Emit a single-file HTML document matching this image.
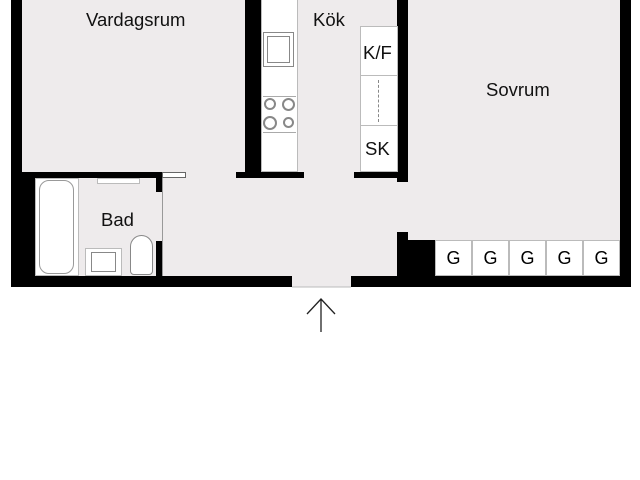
<!DOCTYPE html>
<html><head><style>
body{margin:0;width:640px;height:480px;background:#fff;position:relative;overflow:hidden;font-family:"Liberation Sans",sans-serif}
div{position:absolute;box-sizing:border-box}
.b{background:#000}
.f{background:#eeebec}
.w{background:#fff;border:1px solid #bbb}
.t{font-size:18.5px;color:#111;white-space:nowrap}
.g{background:#fff;border:1px solid #bbb;font-size:18px;text-align:center;line-height:34px;width:37px;height:36px;top:240px}
</style></head><body>
<div class="f" style="left:22px;top:0;width:598px;height:287px"></div>
<div class="b" style="left:11px;top:0;width:11px;height:287px"></div>
<div class="b" style="left:11px;top:172px;width:24px;height:115px"></div>
<div class="b" style="left:11px;top:172px;width:151px;height:6px"></div>
<div class="w" style="left:162px;top:172px;width:24px;height:6px;border-color:#666"></div>
<div class="b" style="left:156px;top:172px;width:6px;height:20px"></div>
<div class="b" style="left:156px;top:241px;width:6px;height:40px"></div>
<div style="left:162px;top:178px;width:1px;height:98px;background:#999"></div>
<div class="b" style="left:11px;top:276px;width:281px;height:11px"></div>
<div class="b" style="left:351px;top:276px;width:280px;height:11px"></div>
<div class="b" style="left:245px;top:0;width:16px;height:178px"></div>
<div class="b" style="left:236px;top:172px;width:68px;height:6px"></div>
<div class="b" style="left:397px;top:0;width:11px;height:182px"></div>
<div class="b" style="left:354px;top:172px;width:50px;height:6px"></div>
<div class="b" style="left:620px;top:0;width:11px;height:287px"></div>
<div class="b" style="left:397px;top:232px;width:11px;height:55px"></div>
<div class="b" style="left:397px;top:240px;width:38px;height:47px"></div>
<div class="f" style="left:35px;top:178px;width:121px;height:98px"></div>
<div class="w" style="left:35px;top:178px;width:44px;height:98px"></div>
<div style="left:39px;top:180px;width:35px;height:94px;border:1px solid #999;border-radius:10px;background:#fff"></div>
<div class="w" style="left:97px;top:178px;width:43px;height:6px"></div>
<div class="w" style="left:85px;top:248px;width:37px;height:28px"></div>
<div style="left:91px;top:252px;width:25px;height:20px;border:1px solid #888"></div>
<div style="left:130px;top:235px;width:23px;height:40px;border:1px solid #888;border-radius:12px 12px 4px 4px;background:#fff"></div>
<div class="t" style="left:101px;top:209px">Bad</div>
<div class="w" style="left:261px;top:-1px;width:37px;height:173px"></div>
<div style="left:263px;top:32px;width:31px;height:35px;border:1px solid #888"></div>
<div style="left:267px;top:36px;width:23px;height:27px;border:1px solid #888"></div>
<div style="left:263px;top:96px;width:33px;height:37px;border-top:1px solid #aaa;border-bottom:1px solid #aaa"></div>
<div style="left:264px;top:98px;width:12px;height:12px;border:2px double #888;border-radius:50%"></div>
<div style="left:282px;top:98px;width:13px;height:13px;border:2px double #888;border-radius:50%"></div>
<div style="left:263px;top:116px;width:14px;height:14px;border:2px double #888;border-radius:50%"></div>
<div style="left:283px;top:117px;width:11px;height:11px;border:2px double #888;border-radius:50%"></div>
<div class="w" style="left:360px;top:26px;width:38px;height:50px"></div>
<div class="w" style="left:360px;top:75px;width:38px;height:51px"></div>
<div style="left:378px;top:80px;width:0;height:42px;border-left:1px dashed #888"></div>
<div class="w" style="left:360px;top:125px;width:38px;height:47px"></div>
<div class="t" style="left:363px;top:42px">K/F</div>
<div class="t" style="left:365px;top:138px">SK</div>
<div class="t" style="left:313px;top:9px">Kök</div>
<div class="t" style="left:86px;top:9px">Vardagsrum</div>
<div class="t" style="left:486px;top:79px">Sovrum</div>
<div class="g" style="left:435px">G</div>
<div class="g" style="left:472px">G</div>
<div class="g" style="left:509px">G</div>
<div class="g" style="left:546px">G</div>
<div class="g" style="left:583px">G</div>
<svg style="position:absolute;left:0;top:0" width="640" height="480">
<line x1="292" y1="287" x2="351" y2="287" stroke="#bbb"/>
<path d="M321 332V299M307 314L321 299L335 314" stroke="#222" stroke-width="1.3" fill="none"/>
</svg>
</body></html>
